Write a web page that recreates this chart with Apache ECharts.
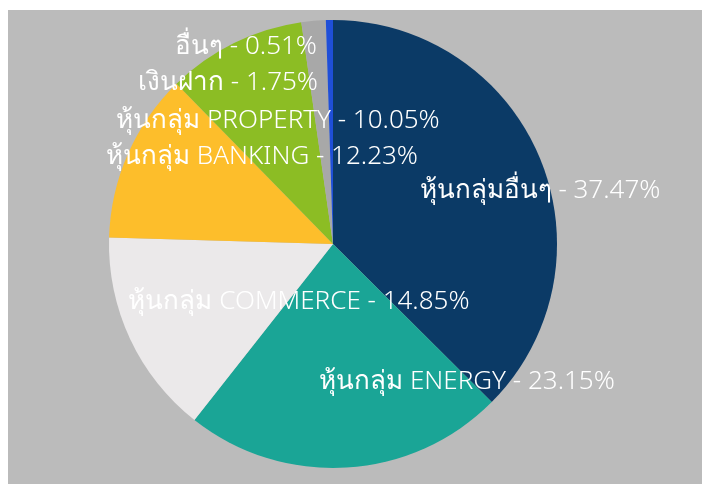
<!DOCTYPE html>
<html>
<head>
<meta charset="utf-8">
<script src="https://cdn.jsdelivr.net/npm/echarts@6/dist/echarts.min.js"></script>
<style>
  html, body { margin: 0; padding: 0; background: #ffffff; }
  #chart { position: absolute; left: 8px; top: 10px; width: 694px; height: 474px; background: #bbbbbb; }
</style>
</head>
<body>
<div id="chart"></div>
<script>
// ข้อมูลสัดส่วนการลงทุน (ตามเข็มนาฬิกา เริ่มจากด้านบน)
const categories = ['หุ้นกลุ่มอื่นๆ', 'หุ้นกลุ่ม ENERGY', 'หุ้นกลุ่ม COMMERCE', 'หุ้นกลุ่ม BANKING', 'หุ้นกลุ่ม PROPERTY', 'เงินฝาก', 'อื่นๆ'];
const values = [37.47, 23.15, 14.85, 12.23, 10.05, 1.75, 0.51];

const colors = ['#0b3a66', '#1aa596', '#ebe9ea', '#fdbe2b', '#8cbd24', '#a8a8a8', '#1f4fd8'];
// label centres (chart px)
const labelSpots = [
    [532, 181], [459, 372], [291, 292], [254, 147], [270, 111], [220, 73], [238, 37]
];

const chart = echarts.init(document.getElementById('chart'));
chart.setOption({
    backgroundColor: '#bbbbbb',
    animation: false,
    series: [{
        type: 'pie',
        center: [325, 234],
        radius: [0, 224],
        startAngle: 90,
        clockwise: true,
        avoidLabelOverlap: false,
        data: categories.map((c, i) => ({
            name: c,
            value: values[i],
            itemStyle: { color: colors[i] }
        })),
        itemStyle: { borderWidth: 0 },
        label: {
            show: true,
            position: 'inside',
            color: '#ffffff',
            fontSize: 26,
            fontWeight: 300,
            fontFamily: 'Noto Sans, sans-serif',
            formatter: p => p.name + ' - ' + values[p.dataIndex].toFixed(2) + '%'
        },
        labelLine: { show: false },
        labelLayout: function (params) {
            const s = labelSpots[params.dataIndex];
            return { x: s[0], y: s[1], align: 'center', verticalAlign: 'middle' };
        },
        emphasis: { disabled: true }
    }]
});
</script>
</body>
</html>
